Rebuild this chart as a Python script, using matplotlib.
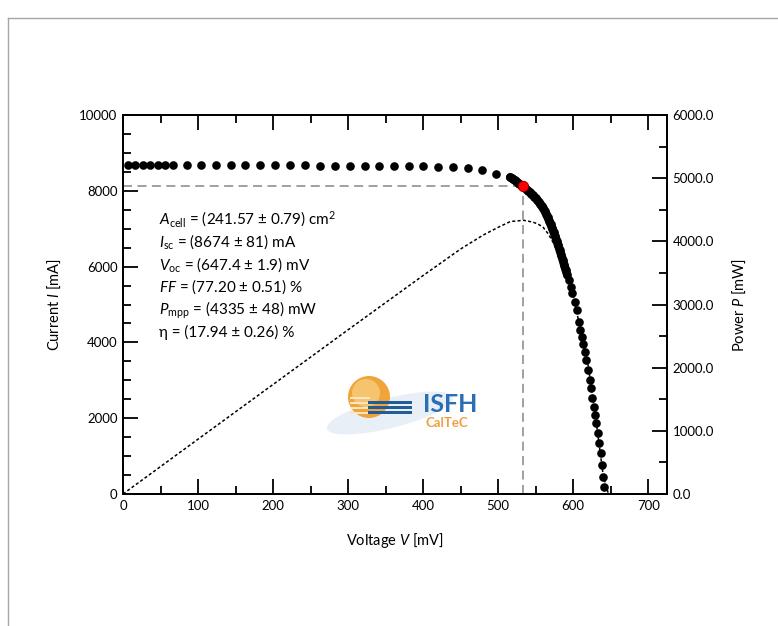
import matplotlib
matplotlib.use("Agg")
import matplotlib.pyplot as plt
from matplotlib.lines import Line2D
from matplotlib.patches import Circle, Ellipse, Rectangle
from matplotlib.ticker import MultipleLocator, FormatStrFormatter

plt.rcParams['font.family'] = ['Lato', 'DejaVu Sans']
plt.rcParams['mathtext.fontset'] = 'custom'
plt.rcParams['mathtext.rm'] = 'Lato'
plt.rcParams['mathtext.it'] = 'Lato:italic'

# I-V curve
volt_mv = [6, 16, 26, 36, 46, 56, 66, 85, 104, 124, 144, 163, 183, 203, 223, 242,
           262, 282, 302, 322, 341, 361, 381, 400, 420, 440, 460, 479, 497,
           516, 518, 520, 522, 524, 526, 528, 530, 532, 534, 536, 538, 540, 542,
           544, 546, 548, 550, 552, 554, 556, 558, 560, 562, 564, 566, 568, 570,
           572, 574, 576, 578, 580, 582, 584, 586, 588, 590, 592,
           595, 597, 599, 602.7, 604.4, 607.1, 608.9, 611.6, 613.3, 615.1, 617.1,
           620, 622.3, 624, 625.7, 627.6, 629.3, 630.3, 632.9, 634.7, 636.4,
           638.3, 640, 641.7]
curr_ma = [8680, 8680, 8679, 8679, 8678, 8678, 8677, 8676, 8675, 8674, 8673, 8672,
           8671, 8670, 8669, 8668, 8667, 8665, 8663, 8661, 8659, 8656, 8652, 8647,
           8640, 8630, 8610, 8545, 8455,
           8356, 8330, 8304, 8276, 8247, 8218, 8188, 8158, 8128, 8098, 8066, 8033,
           7998, 7962, 7925, 7886, 7846, 7803, 7757, 7708, 7655, 7598, 7537, 7470,
           7390, 7300, 7210, 7115, 7015, 6910, 6800, 6685, 6565, 6440, 6315, 6185,
           6050, 5915, 5790,
           5646, 5470, 5296, 5074, 4855, 4546, 4327, 4150, 3958, 3755, 3536,
           3272, 3008, 2789, 2525, 2304, 2084, 1865, 1602, 1338, 1074,
           765, 456, 193]
# the densely sampled stretch near the knee (index range in the lists above)
dense_from, dense_to = 29, 68

# power curve (dotted)
pow_v_mv = [0, 100, 200, 300, 400, 450, 480, 500, 516, 520, 526, 533, 540, 546,
            553, 560, 567, 574, 580, 590, 600, 610, 620, 630, 640, 647]
pow_mw = [0, 868, 1734, 2600, 3459, 3879, 4099, 4222, 4312, 4318, 4323, 4335, 4319,
          4305, 4275, 4221, 4114, 3966, 3808, 3490, 3138, 2586, 2029, 1197, 292, 0]

v_mpp = 533
i_mpp = 8133

info_lines = [
    r"$\mathit{A}_{\mathrm{cell}}$ = (241.57 ± 0.79) cm$^{2}$",
    r"$\mathit{I}_{\mathrm{sc}}$ = (8674 ± 81) mA",
    r"$\mathit{V}_{\mathrm{oc}}$ = (647.4 ± 1.9) mV",
    r"$\mathit{FF}$ = (77.20 ± 0.51) %",
    r"$\mathit{P}_{\mathrm{mpp}}$ = (4335 ± 48) mW",
    "η = (17.94 ± 0.26) %",
]

fig = plt.figure(figsize=(7.78, 6.26), dpi=100)

# grey frame (left and top edges visible)
fig.add_artist(Line2D([8 / 778, 8 / 778], [0, 1 - 18 / 626], color='#a6a6a6', lw=1))
fig.add_artist(Line2D([8 / 778, 1], [1 - 18 / 626, 1 - 18 / 626], color='#a6a6a6', lw=1))

ax = fig.add_axes([123 / 778, 132 / 626, 544 / 778, 379 / 626])
ax2 = ax.twinx()
ax.set_zorder(ax2.get_zorder() + 1)
ax.patch.set_visible(False)

ax2.plot(pow_v_mv, pow_mw, color='black', lw=1.1, ls=(0, (2, 1.5)))
ax.plot([0, v_mpp], [i_mpp, i_mpp], color='#999999', lw=1.3, ls=(0, (5, 3)))
ax.plot([v_mpp, v_mpp], [0, i_mpp], color='#999999', lw=1.3, ls=(0, (5, 3)))
ax.plot(volt_mv[dense_from:dense_to], curr_ma[dense_from:dense_to], color='black',
        lw=6.2, solid_capstyle='round', solid_joinstyle='round')
ax.plot(volt_mv, curr_ma, 'o', color='black', ms=6.2, mew=0)
ax.plot([v_mpp], [i_mpp], 'o', color='#ff0000', mec='#8b0000', mew=0.6, ms=7.5, zorder=5)

ax.set_xlim(0, 725)
ax.set_ylim(0, 10000)
ax2.set_ylim(0, 6000)

ax.xaxis.set_major_locator(MultipleLocator(100))
ax.xaxis.set_minor_locator(MultipleLocator(50))
ax.yaxis.set_major_locator(MultipleLocator(2000))
ax.yaxis.set_minor_locator(MultipleLocator(500))
ax2.yaxis.set_major_locator(MultipleLocator(1000))
ax2.yaxis.set_minor_locator(MultipleLocator(500))
ax2.yaxis.set_major_formatter(FormatStrFormatter('%.1f'))

for a in (ax, ax2):
    for s in a.spines.values():
        s.set_linewidth(1.4)
ax.tick_params(which='both', direction='in', top=True, right=False, width=1.3,
               labelsize=9.5, pad=4)
ax.tick_params(which='major', length=10.5)
ax.tick_params(which='minor', length=5.5)
ax2.tick_params(which='both', direction='in', width=1.3, labelsize=9.5, pad=4)
ax2.tick_params(which='major', length=10.5)
ax2.tick_params(which='minor', length=5.5)

ax.set_xlabel(r"Voltage $\mathit{V}$ [mV]", fontsize=10.5, labelpad=14)
ax.set_ylabel(r"Current $\mathit{I}$ [mA]", fontsize=10.5, labelpad=12)
ax2.set_ylabel(r"Power $\mathit{P}$ [mW]", fontsize=10.5, labelpad=12)

for k, line in enumerate(info_lines):
    ax.text(0.067, 0.7116 - k * 0.0596, line, transform=ax.transAxes,
            fontsize=11, va='baseline', ha='left')

# logo
lg = fig.add_axes([320 / 778, 171 / 626, 165 / 778, 85 / 626])
lg.set_xlim(0, 165)
lg.set_ylim(0, 85)
lg.axis('off')
lg.add_patch(Ellipse((70, 42), 130, 30, angle=14, color='#e9eff6', lw=0))
lg.add_patch(Circle((49, 58), 21, color='#f0a53a', lw=0))
lg.add_patch(Circle((46, 62), 14, color='#f6c46e', lw=0))
for yy in (57, 52, 47, 42):
    lg.add_patch(Rectangle((30, yy - 1), 20, 2, color='#fbe6c4', lw=0))
for yy in (52.3, 47.3, 42.3):
    lg.add_patch(Rectangle((48, yy - 1.6), 44, 3.2, color='#1f5c99', lw=0))
lg.text(103, 50, "ISFH", color='#2a6eb5', fontsize=18, fontweight='bold', va='center')
lg.text(106, 32, "CalTeC", color='#f0a040', fontsize=9.5, fontweight='bold', va='center')

fig.savefig("out.png", dpi=100)
